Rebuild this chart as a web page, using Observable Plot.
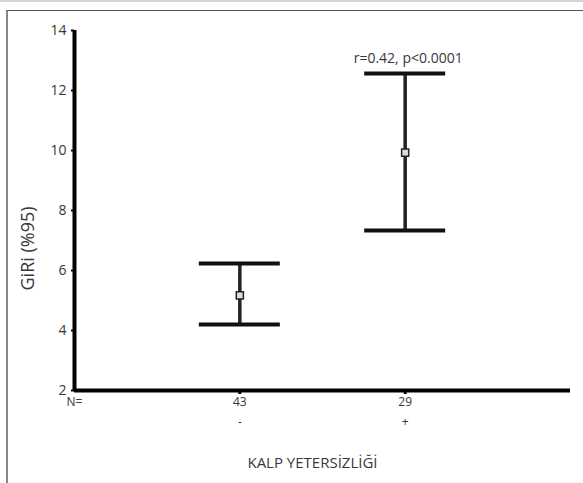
<!DOCTYPE html>
<html>
<head>
<meta charset="utf-8">
<script src="https://cdn.jsdelivr.net/npm/d3@7"></script>
<script src="https://cdn.jsdelivr.net/npm/@observablehq/plot@0.6"></script>
<style>
  html, body { margin: 0; padding: 0; background: #fff; }
  #wrap { position: relative; width: 583px; height: 483px; overflow: hidden; border-top: 2px solid #d6d6d6; box-sizing: border-box; }
  #frame { position: absolute; left: 6px; top: 8px; width: 590px; height: 490px; border-top: 1.5px solid #555; border-left: 2px solid #888; box-sizing: border-box; }
  #chart { position: absolute; left: 0; top: -2px; }
</style>
</head>
<body>
<div id="wrap"><div id="frame"></div><div id="chart"></div></div>
<script>
// Data
const groups = ["-", "+"];
const groupPos = [1, 2];
const nValues = [43, 29];
const means = [5.17, 9.93];
const lower = [4.2, 7.33];
const upper = [6.23, 12.57];
const yTicks = [2, 4, 6, 8, 10, 12, 14];
const annotation = "r=0.42, p<0.0001";
const yLabel = "GiRi (%95)";
const xLabel = "KALP YETERSİZLİĞİ";

const rows = groups.map((g, i) => ({
  group: g, pos: groupPos[i], n: nValues[i], mean: means[i], lo: lower[i], hi: upper[i]
}));
const capHalf = 0.245;
const font = "'Open Sans', 'Noto Sans', sans-serif";
const txt = "#383838";

const chart = Plot.plot({
  width: 583,
  height: 483,
  marginLeft: 74,
  marginRight: 13,
  marginTop: 30,
  marginBottom: 93,
  style: { background: "transparent", fontFamily: font, overflow: "visible" },
  x: { domain: [0, 3], axis: null },
  y: { domain: [2, 14], axis: null },
  marks: [
    Plot.axisY(yTicks, { tickSize: 3, tickPadding: 5, fontSize: 14, color: txt, stroke: "#000", strokeWidth: 2, label: null }),
    Plot.axisX(groupPos, { tickSize: 4, tickFormat: () => "", stroke: "#000", strokeWidth: 3, label: null }),
    // axis lines
    Plot.ruleY([2], { stroke: "#000", strokeWidth: 4 }),
    Plot.ruleX([0], { stroke: "#000", strokeWidth: 4 }),
    // error bars
    Plot.ruleX(rows, { x: "pos", y1: "lo", y2: "hi", stroke: "#222", strokeWidth: 3.5 }),
    Plot.ruleY(rows, { y: "hi", x1: d => d.pos - capHalf, x2: d => d.pos + capHalf, stroke: "#111", strokeWidth: 4 }),
    Plot.ruleY(rows, { y: "lo", x1: d => d.pos - capHalf, x2: d => d.pos + capHalf, stroke: "#111", strokeWidth: 4 }),
    Plot.dot(rows, { x: "pos", y: "mean", symbol: "square", r: 4, stroke: "#222", strokeWidth: 1.5, fill: "#ddd" }),
    // annotation
    Plot.text([rows[1]], { x: "pos", y: "hi", text: () => annotation, dy: -15, dx: 3, fontSize: 14, fill: txt }),
    // N labels
    Plot.text(["N="], { x: 0, frameAnchor: "bottom", text: d => d, dy: 15, fontSize: 12, fill: txt }),
    Plot.text(rows, { x: "pos", frameAnchor: "bottom", text: d => String(d.n), dy: 15, fontSize: 12, fill: txt }),
    Plot.text(rows, { x: "pos", frameAnchor: "bottom", text: "group", dy: 35, fontSize: 12, fill: txt }),
    // axis labels
    Plot.text([xLabel], { frameAnchor: "bottom", text: d => d, dy: 77, dx: -10, fontSize: 15, fill: txt }),
    Plot.text([yLabel], { frameAnchor: "bottom-left", textAnchor: "start", text: d => d, rotate: -90, dx: -41, dy: -100, fontSize: 18, fill: txt })
  ]
});
document.getElementById("chart").appendChild(chart);
</script>
</body>
</html>
